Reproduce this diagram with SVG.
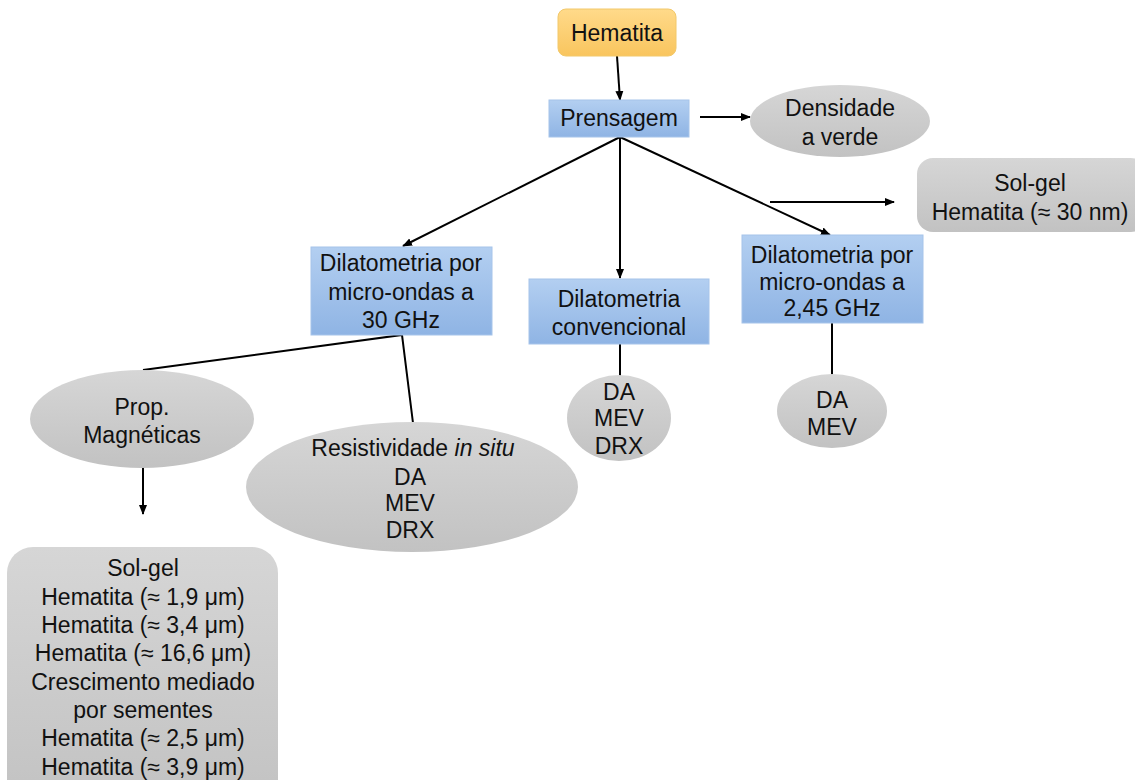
<svg xmlns="http://www.w3.org/2000/svg" width="1135" height="780" viewBox="0 0 1135 780">
<defs>
<linearGradient id="gBlue" x1="0" y1="0" x2="0" y2="1"><stop offset="0" stop-color="#B3CFF1"/><stop offset="1" stop-color="#8FB4E4"/></linearGradient>
<linearGradient id="gGray" x1="0" y1="0" x2="0" y2="1"><stop offset="0" stop-color="#D6D6D6"/><stop offset="1" stop-color="#C2C2C2"/></linearGradient>
<linearGradient id="gYel" x1="0" y1="0" x2="0" y2="1"><stop offset="0" stop-color="#FFDA8A"/><stop offset="1" stop-color="#F9C55E"/></linearGradient>
<marker id="arr" viewBox="0 0 10 10" refX="9" refY="5" markerWidth="10" markerHeight="10" markerUnits="userSpaceOnUse" orient="auto"><path d="M0,1 L10,5 L0,9 z" fill="#000"/></marker>
</defs>
<style>
text{font-family:"Liberation Sans",Arial,sans-serif;font-size:23px;fill:#111;text-anchor:middle}
.blue{fill:url(#gBlue);stroke:#A6C4EA;stroke-width:1}
.gray{fill:url(#gGray);stroke:none}
.yel{fill:url(#gYel);stroke:#F2C86A;stroke-width:1}
.ln{stroke:#000;stroke-width:2;fill:none}
.ar{stroke:#000;stroke-width:2;fill:none;marker-end:url(#arr)}
</style>
<rect width="1135" height="780" fill="#fff"/>
<g id="connectors">
<line class="ar" x1="617" y1="56" x2="620" y2="100"/>
<line class="ar" x1="700" y1="117" x2="750" y2="117"/>
<line class="ar" x1="620" y1="137" x2="403" y2="246"/>
<line class="ar" x1="620" y1="137" x2="620" y2="278"/>
<line class="ar" x1="620" y1="137" x2="830" y2="235"/>
<line class="ar" x1="770" y1="202" x2="894" y2="202"/>
<line class="ln" x1="620" y1="344" x2="620" y2="376"/>
<line class="ln" x1="832" y1="323" x2="832" y2="377"/>
<polyline class="ln" points="143,370 402,335 413,423"/>
<line class="ar" x1="143" y1="462" x2="143" y2="514"/>
</g>
<g id="hematita"><rect class="yel" x="558" y="9" width="118" height="47" rx="8"/><text x="617" y="41">Hematita</text></g>
<g id="prensagem"><rect class="blue" x="549" y="100" width="140" height="37"/><text x="619" y="126">Prensagem</text></g>
<g id="densidade"><ellipse class="gray" cx="840" cy="121" rx="90" ry="36"/><text x="840" y="116">Densidade</text><text x="840" y="145">a verde</text></g>
<g id="solgel30"><rect class="gray" x="917" y="158" width="230" height="74" rx="16"/><text x="1030" y="191">Sol-gel</text><text x="1030" y="220">Hematita (≈ 30 nm)</text></g>
<g id="dil30"><rect class="blue" x="311" y="247" width="181" height="88"/><text x="401" y="271">Dilatometria por</text><text x="401" y="300">micro-ondas a</text><text x="401" y="328">30 GHz</text></g>
<g id="dilconv"><rect class="blue" x="529" y="279" width="180" height="65"/><text x="619" y="307">Dilatometria</text><text x="619" y="335">convencional</text></g>
<g id="dil245"><rect class="blue" x="742" y="235" width="181" height="88"/><text x="832" y="263">Dilatometria por</text><text x="832" y="290">micro-ondas a</text><text x="832" y="316">2,45 GHz</text></g>
<g id="conv-results"><ellipse class="gray" cx="619" cy="418" rx="52" ry="43"/><text x="619" y="400">DA</text><text x="619" y="426">MEV</text><text x="619" y="454">DRX</text></g>
<g id="ghz-results"><ellipse class="gray" cx="832" cy="411" rx="55" ry="37"/><text x="832" y="408">DA</text><text x="832" y="435">MEV</text></g>
<g id="propmag"><ellipse class="gray" cx="142" cy="419" rx="112" ry="49"/><text x="142" y="415">Prop.</text><text x="142" y="443">Magnéticas</text></g>
<g id="resistividade"><ellipse class="gray" cx="412" cy="487" rx="166" ry="65"/><text x="413" y="456">Resistividade <tspan font-style="italic">in situ</tspan></text><text x="410" y="485">DA</text><text x="410" y="511">MEV</text><text x="410" y="538">DRX</text></g>
<g id="solgel-list"><rect class="gray" x="7" y="547" width="271" height="260" rx="26"/>
<text x="143" y="576">Sol-gel</text><text x="143" y="605">Hematita (≈ 1,9 μm)</text><text x="143" y="633">Hematita (≈ 3,4 μm)</text><text x="143" y="661">Hematita (≈ 16,6 μm)</text><text x="143" y="690">Crescimento mediado</text><text x="143" y="718">por sementes</text><text x="143" y="746">Hematita (≈ 2,5 μm)</text><text x="143" y="775">Hematita (≈ 3,9 μm)</text></g>
</svg>
